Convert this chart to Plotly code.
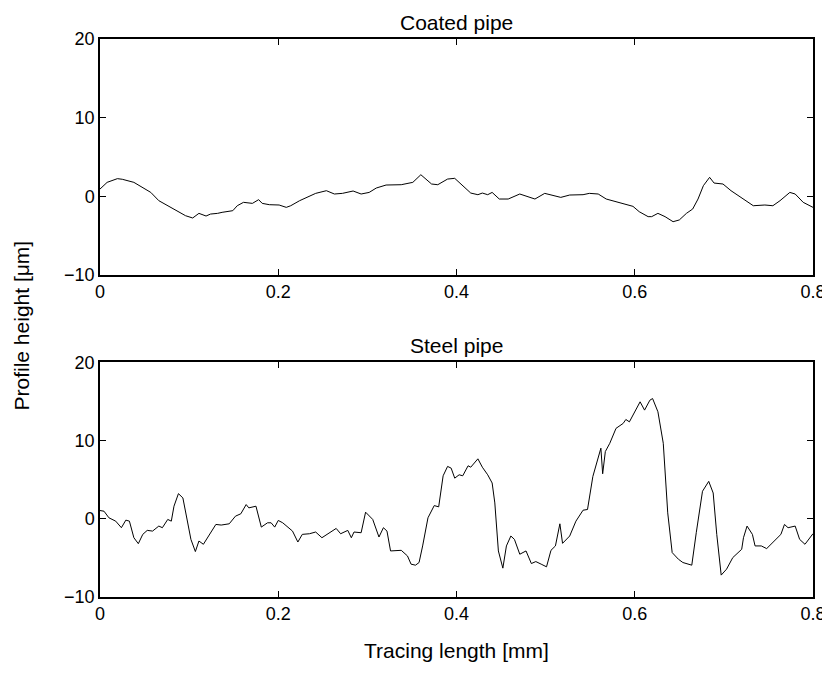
import plotly.graph_objects as go
from plotly.subplots import make_subplots

# Coated pipe profile (x in mm, height in um)
coated_x = [0, 0.008, 0.0195, 0.025, 0.038, 0.048, 0.057, 0.066, 0.077, 0.089, 0.096, 0.104, 0.111, 0.119, 0.124,
            0.132, 0.137, 0.149, 0.154, 0.161, 0.171, 0.178, 0.182, 0.19, 0.201, 0.209, 0.214, 0.224, 0.233, 0.242,
            0.254, 0.263, 0.272, 0.284, 0.293, 0.302, 0.31, 0.321, 0.338, 0.351, 0.36, 0.366, 0.372, 0.379, 0.39,
            0.398, 0.407, 0.416, 0.424, 0.429, 0.435, 0.44, 0.448, 0.458, 0.471, 0.48, 0.488, 0.499, 0.508, 0.517,
            0.527, 0.542, 0.549, 0.559, 0.568, 0.577, 0.587, 0.598, 0.605, 0.615, 0.619, 0.626, 0.634, 0.643, 0.65,
            0.658, 0.665, 0.671, 0.677, 0.684, 0.689, 0.699, 0.708, 0.722, 0.733, 0.746, 0.755, 0.763, 0.774, 0.78,
            0.789, 0.8]
coated_y = [0.93, 1.78, 2.25, 2.17, 1.78, 1.14, 0.5, -0.55, -1.27, -2.03, -2.46, -2.75, -2.16, -2.5, -2.25,
            -2.16, -2.03, -1.82, -1.19, -0.76, -0.89, -0.42, -0.89, -1.06, -1.1, -1.4, -1.19, -0.55, -0.04, 0.38,
            0.72, 0.3, 0.38, 0.68, 0.3, 0.5, 1.06, 1.44, 1.48, 1.78, 2.75, 2.2, 1.57, 1.48, 2.2,
            2.29, 1.36, 0.42, 0.21, 0.42, 0.21, 0.5, -0.34, -0.34, 0.3, 0.0, -0.34, 0.38, 0.08, -0.13,
            0.17, 0.21, 0.38, 0.3, -0.34, -0.64, -0.89, -1.27, -1.95, -2.58, -2.58, -2.16, -2.58, -3.22, -3.0,
            -2.16, -1.61, -0.34, 1.36, 2.42, 1.69, 1.57, 0.72, -0.34, -1.19, -1.1, -1.19, -0.55, 0.5, 0.3,
            -0.76, -1.4]

# Steel pipe profile
steel_x = [0, 0.0045, 0.01, 0.0176, 0.024, 0.029, 0.033, 0.038, 0.043, 0.048, 0.053, 0.059, 0.066, 0.07, 0.076,
           0.08, 0.083, 0.088, 0.093, 0.098, 0.102, 0.107, 0.111, 0.116, 0.122, 0.13, 0.136, 0.145, 0.152, 0.158,
           0.164, 0.167, 0.175, 0.181, 0.188, 0.192, 0.196, 0.2, 0.205, 0.212, 0.216, 0.222, 0.227, 0.235, 0.242,
           0.249, 0.255, 0.265, 0.27, 0.278, 0.282, 0.285, 0.293, 0.298, 0.306, 0.313, 0.318, 0.322, 0.326, 0.338,
           0.345, 0.349, 0.354, 0.358, 0.362, 0.368, 0.375, 0.38, 0.385, 0.39, 0.394, 0.398, 0.403, 0.407, 0.413,
           0.416, 0.424, 0.429, 0.435, 0.44, 0.443, 0.447, 0.452, 0.456, 0.461, 0.465, 0.471, 0.478, 0.484, 0.489,
           0.495, 0.501, 0.506, 0.511, 0.516, 0.519, 0.527, 0.534, 0.542, 0.547, 0.553, 0.559, 0.562, 0.564, 0.567,
           0.572, 0.579, 0.587, 0.59, 0.594, 0.6, 0.606, 0.611, 0.617, 0.62, 0.626, 0.632, 0.637, 0.642, 0.649,
           0.654, 0.664, 0.669, 0.676, 0.683, 0.688, 0.692, 0.697, 0.703, 0.71, 0.72, 0.722, 0.726, 0.732, 0.735,
           0.742, 0.748, 0.757, 0.764, 0.768, 0.772, 0.78, 0.785, 0.791, 0.796, 0.8]
steel_y = [1.06, 0.97, 0.13, -0.3, -1.14, -0.17, -0.3, -2.42, -3.18, -1.99, -1.48, -1.57, -0.93, -1.14, -0.08,
           -0.3, 1.61, 3.22, 2.67, -0.08, -2.63, -4.19, -2.84, -3.26, -2.2, -0.72, -0.8, -0.64, 0.34, 0.64,
           1.82, 1.4, 1.61, -1.06, -0.51, -0.51, -1.06, -0.21, -0.51, -1.14, -1.57, -2.97, -1.99, -1.91, -1.69,
           -2.42, -1.99, -1.23, -1.91, -1.48, -2.42, -1.69, -1.78, 0.85, -0.08, -2.33, -1.14, -1.57, -4.11, -4.03,
           -4.75, -5.8, -5.93, -5.59, -3.47, 0.13, 1.69, 1.53, 5.5, 6.7, 6.48, 5.2, 5.63, 5.5, 6.78,
           6.6, 7.67, 6.6, 5.63, 4.58, 2.03, -4.11, -6.31, -3.47, -2.2, -2.63, -4.53, -4.11, -5.72, -5.47,
           -5.8, -6.14, -4.03, -3.47, -0.64, -3.14, -2.2, -0.3, 1.1, 1.19, 5.42, 7.97, 9.03, 5.76, 8.6,
           9.66, 11.57, 12.2, 12.7, 12.4, 13.6, 14.96, 13.9, 15.17, 15.38, 13.69, 9.66, 0.76, -4.32, -5.17,
           -5.59, -5.93, -1.78, 3.52, 4.79, 3.3, -1.99, -7.2, -6.44, -4.96, -3.9, -2.42, -0.93, -1.99, -3.47,
           -3.47, -3.81, -2.84, -1.99, -0.72, -1.14, -0.93, -2.63, -3.26, -2.42, -1.9]

x_ticks = [0, 0.2, 0.4, 0.6, 0.8]
x_tick_labels = ["0", "0.2", "0.4", "0.6", "0.8"]
y_ticks = [-10, 0, 10, 20]
y_tick_labels = ["\u221210", "0", "10", "20"]

FONT = "Liberation Sans, Arial, Helvetica, sans-serif"
TICK = 18
LAB = 21

fig = make_subplots(rows=2, cols=1, vertical_spacing=0.1566)
fig.add_trace(go.Scatter(x=coated_x, y=coated_y, mode="lines",
                         line=dict(color="black", width=1), showlegend=False), row=1, col=1)
fig.add_trace(go.Scatter(x=steel_x, y=steel_y, mode="lines",
                         line=dict(color="black", width=1), showlegend=False), row=2, col=1)

axis_common = dict(showgrid=False, zeroline=False, showline=True, linecolor="black", linewidth=1.5,
                   mirror="ticks", ticks="inside", ticklen=6, tickcolor="black", tickwidth=1,
                   tickfont=dict(family=FONT, size=TICK, color="black"))
for r in (1, 2):
    fig.update_xaxes(range=[0, 0.8], tickvals=x_ticks, ticktext=x_tick_labels, row=r, col=1, **axis_common)
    fig.update_yaxes(range=[-10, 20], tickvals=y_ticks, ticktext=y_tick_labels, row=r, col=1, **axis_common)

fig.update_layout(
    width=830, height=675,
    margin=dict(l=92, r=25, t=31, b=86),
    paper_bgcolor="white", plot_bgcolor="white",
    font=dict(family=FONT, size=TICK, color="black"),
    annotations=[
        dict(text="Coated pipe", x=0.5, y=1.0, xref="paper", yref="paper", yanchor="bottom", yshift=3,
             showarrow=False, font=dict(family=FONT, size=LAB)),
        dict(text="Steel pipe", x=0.5, y=0.4204, xref="paper", yref="paper", yanchor="bottom", yshift=3,
             showarrow=False, font=dict(family=FONT, size=LAB)),
        dict(text="Tracing length [mm]", x=0.5, y=0, xref="paper", yref="paper", yanchor="top", yshift=-40,
             showarrow=False, font=dict(family=FONT, size=LAB)),
        dict(text="Profile height [\u03bcm]", x=0, y=0.5, xref="paper", yref="paper", xanchor="right",
             xshift=-66, yshift=-8, textangle=-90, showarrow=False, font=dict(family=FONT, size=LAB)),
    ],
)
fig.update_layout(yaxis=dict(domain=[0.577, 1.0]), yaxis2=dict(domain=[0.0, 0.4204]))

fig.write_html("out.html")
